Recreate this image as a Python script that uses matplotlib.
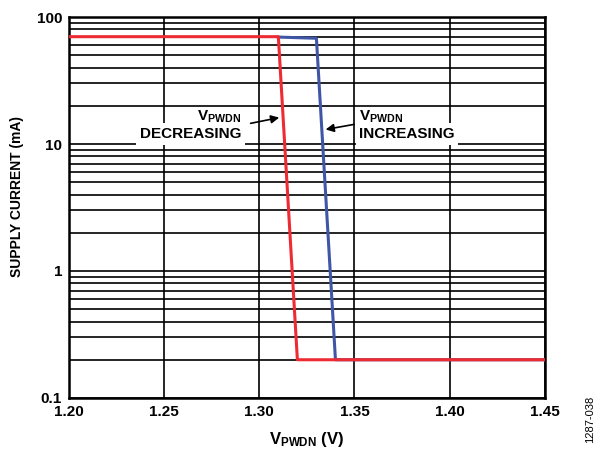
import matplotlib
matplotlib.use("Agg")
import matplotlib.pyplot as plt
from matplotlib.ticker import LogLocator, NullFormatter

plt.rcParams['font.family'] = ['Liberation Sans', 'DejaVu Sans']
plt.rcParams['font.weight'] = 'bold'
plt.rcParams['mathtext.fontset'] = 'custom'
plt.rcParams['mathtext.rm'] = 'Liberation Sans:bold'
plt.rcParams['mathtext.it'] = 'Liberation Sans:bold'
plt.rcParams['mathtext.bf'] = 'Liberation Sans:bold'
plt.rcParams['mathtext.default'] = 'rm'

# Data
dec_v = [1.20, 1.310, 1.320, 1.45]
dec_i = [70, 70, 0.2, 0.2]
inc_v = [1.310, 1.330, 1.340, 1.45]
inc_i = [69.5, 68, 0.2, 0.2]
x_ticks = [1.20, 1.25, 1.30, 1.35, 1.40, 1.45]
x_labels = ['1.20', '1.25', '1.30', '1.35', '1.40', '1.45']
y_ticks = [0.1, 1, 10, 100]
y_labels = ['0.1', '1', '10', '100']

fig = plt.figure(figsize=(6, 4.5), dpi=100)
ax = fig.add_axes([0.115, 0.1156, 0.793, 0.8466])

ax.set_yscale('log')
ax.set_xlim(1.20, 1.45)
ax.set_ylim(0.1, 100)

ax.set_xticks(x_ticks)
ax.set_xticklabels(x_labels, fontsize=11, fontweight='bold')
ax.set_yticks(y_ticks)
ax.set_yticklabels(y_labels, fontsize=11, fontweight='bold')
ax.yaxis.set_minor_locator(LogLocator(base=10, subs=range(2, 10)))
ax.yaxis.set_minor_formatter(NullFormatter())
ax.tick_params(axis='both', which='both', length=0, pad=5)

ax.grid(True, which='major', axis='both', color='black', linewidth=1.2)
ax.grid(True, which='minor', axis='y', color='black', linewidth=1.2)
for s in ax.spines.values():
    s.set_linewidth(1.8)

ax.plot(inc_v, inc_i, color='#3f56a6', linewidth=2.2, zorder=3)
ax.plot(dec_v, dec_i, color='#ee2a33', linewidth=2.2, zorder=4)

ax.set_xlabel(r'$\mathrm{V_{PWDN}}$ (V)', fontsize=12, fontweight='bold', labelpad=8)
ax.set_ylabel('SUPPLY CURRENT (mA)', fontsize=10, fontweight='bold')
ax.yaxis.set_label_coords(-0.095, 0.53)

# Annotations
ax.annotate('', xy=(1.3119, 16.3), xytext=(1.2940, 14.4),
            arrowprops=dict(arrowstyle='-|>', color='black', lw=1.2, mutation_scale=12))
ax.text(1.2905, 15.4, r'$\mathrm{V_{PWDN}}$', ha='right', va='baseline',
        fontsize=11, fontweight='bold')
ax.text(1.2905, 11.15, 'DECREASING', ha='right', va='baseline',
        fontsize=11, fontweight='bold',
        bbox=dict(facecolor='white', edgecolor='none', pad=2.5))
ax.annotate('', xy=(1.3334, 12.9), xytext=(1.3513, 14.4),
            arrowprops=dict(arrowstyle='-|>', color='black', lw=1.2, mutation_scale=12))
ax.text(1.3525, 15.4, r'$\mathrm{V_{PWDN}}$', ha='left', va='baseline',
        fontsize=11, fontweight='bold')
ax.text(1.3525, 11.15, 'INCREASING', ha='left', va='baseline',
        fontsize=11, fontweight='bold',
        bbox=dict(facecolor='white', edgecolor='none', pad=2.5))

fig.text(0.983, 0.015, '1287-038', rotation=90, fontsize=8, fontweight='normal',
         ha='center', va='bottom')

fig.savefig('out.png', dpi=100)
